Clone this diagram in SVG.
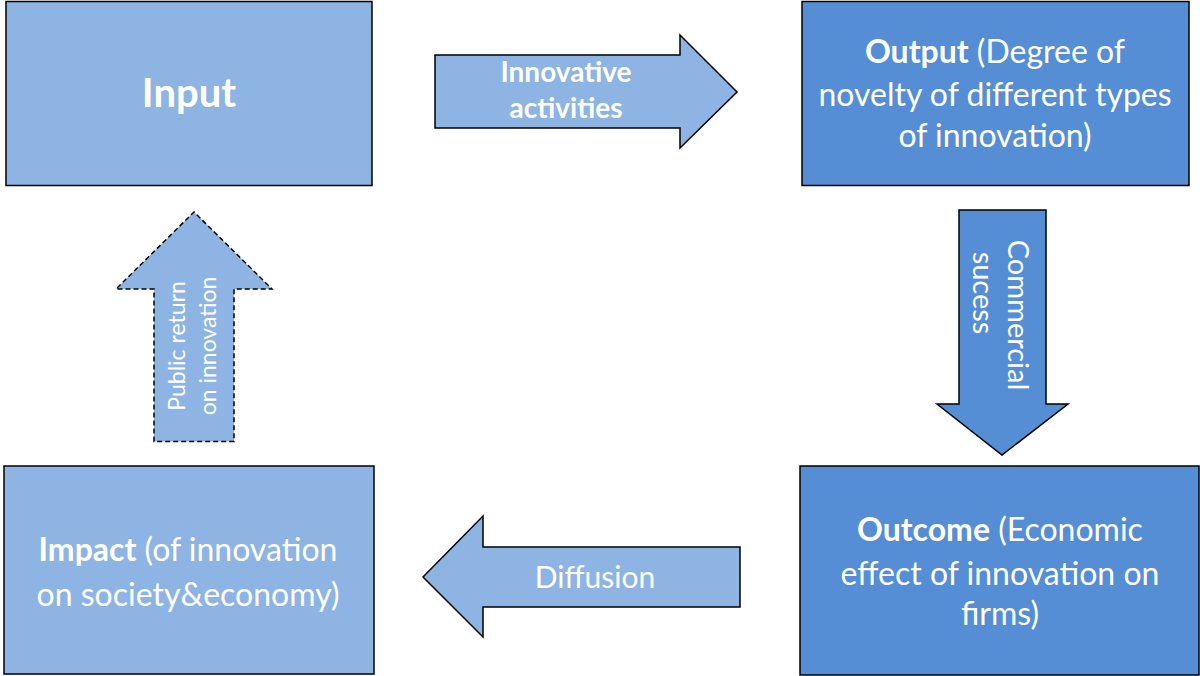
<svg xmlns="http://www.w3.org/2000/svg" width="1200" height="676" viewBox="0 0 1200 676">
  <style>
    .light { fill: #8EB4E3; stroke: #000; stroke-width: 1.5; }
    .dark { fill: #558ED5; stroke: #000; stroke-width: 1.5; }
    .dashed { fill: #8EB4E3; stroke: #000; stroke-width: 1.5; stroke-dasharray: 5 3; }
    text { font-family: Lato, "Liberation Sans", sans-serif; fill: #fff; }
    .body { font-size: 32px; text-anchor: middle; }
    .b { font-weight: bold; }
  </style>
  <rect width="1200" height="676" fill="#fff"/>

  <g id="input">
    <rect class="light" x="6" y="1.5" width="366" height="184"/>
    <text x="189" y="107" text-anchor="middle" font-size="40" font-weight="bold">Input</text>
  </g>

  <g id="output">
    <rect class="dark" x="802" y="1.5" width="387" height="184"/>
    <text class="body" x="995"><tspan x="995" y="63"><tspan class="b">Output</tspan> (Degree  of</tspan><tspan x="995" y="106">novelty of different  types</tspan><tspan x="995" y="147">of innovation)</tspan></text>
  </g>

  <g id="outcome">
    <rect class="dark" x="800" y="466" width="399" height="209"/>
    <text class="body" x="1000"><tspan x="1000" y="541"><tspan class="b">Outcome</tspan> (Economic</tspan><tspan x="1000" y="585">effect of innovation on</tspan><tspan x="1000" y="625">firms)</tspan></text>
  </g>

  <g id="impact">
    <rect class="light" x="4" y="466" width="370" height="208"/>
    <text class="body" x="188"><tspan x="188" y="561"><tspan class="b">Impact</tspan> (of innovation</tspan><tspan x="188" y="606">on society&amp;economy)</tspan></text>
  </g>

  <g id="connectors">
    <g id="innovative-activities">
      <polygon class="light" points="435,55 680,55 680,35 737,92 680,148 680,128 435,128"/>
      <text x="566" y="82" text-anchor="middle" font-size="28" font-weight="bold">Innovative</text>
      <text x="566" y="118" text-anchor="middle" font-size="28" font-weight="bold">activities</text>
    </g>
    <g id="commercial-sucess">
      <polygon class="dark" points="959,210 1046,210 1046,404 1068,404 1002,455 937,404 959,404"/>
      <text transform="translate(1008,315) rotate(90)" text-anchor="middle" font-size="29">Commercial</text>
      <text transform="translate(973,293) rotate(90)" text-anchor="middle" font-size="29">sucess</text>
    </g>
    <g id="diffusion">
      <polygon class="light" points="740,547 483,547 483,516 423,577 483,637 483,607 740,607"/>
      <text x="595" y="588" text-anchor="middle" font-size="30">Diffusion</text>
    </g>
    <g id="public-return">
      <polygon class="dashed" points="154,441.5 154,289 116,289 194,212 272,289 234,289 234,441.5"/>
      <text transform="translate(185,346) rotate(-90)" text-anchor="middle" font-size="23">Public return</text>
      <text transform="translate(216,346) rotate(-90)" text-anchor="middle" font-size="23">on innovation</text>
    </g>
  </g>
</svg>
